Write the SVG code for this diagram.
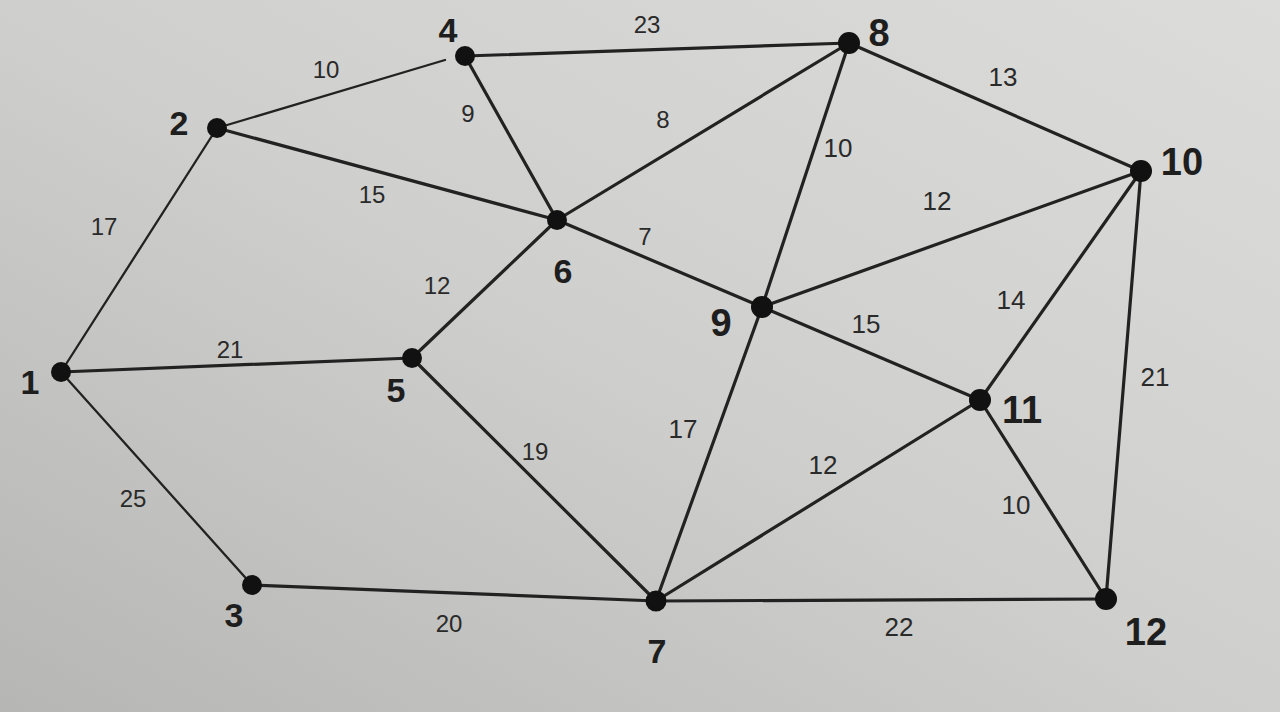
<svg xmlns="http://www.w3.org/2000/svg" width="1280" height="712" viewBox="0 0 1280 712">
<defs>
<linearGradient id="bg" x1="1" y1="0" x2="0" y2="1">
<stop offset="0" stop-color="#dcdcda"/>
<stop offset="0.5" stop-color="#cfcfcd"/>
<stop offset="1" stop-color="#b6b6b4"/>
</linearGradient>
<style>
.e{stroke:#222;stroke-width:3.2;stroke-linecap:round;fill:none}
.t{stroke-width:2.3}
.n{fill:#111}
.w{font-family:"Liberation Sans",Arial,sans-serif;font-size:24px;fill:#2a2a2a;text-anchor:middle}
.r{font-size:26px}
.l{font-family:"Liberation Sans",Arial,sans-serif;font-size:34px;font-weight:bold;fill:#1e1e1e;text-anchor:middle}
.b{font-size:38px}
</style>
</defs>
<rect width="1280" height="712" fill="url(#bg)"/>
<g id="connectors">
<line class="e t" x1="61" y1="372" x2="217" y2="128"/>
<line class="e t" x1="61" y1="372" x2="252" y2="585"/>
<line class="e" x1="61" y1="372" x2="412" y2="358"/>
<line class="e t" x1="217" y1="128" x2="445" y2="60"/>
<line class="e" x1="217" y1="128" x2="557" y2="220"/>
<line class="e" x1="252" y1="585" x2="656" y2="601"/>
<line class="e" x1="465" y1="56" x2="849" y2="43"/>
<line class="e" x1="465" y1="56" x2="557" y2="220"/>
<line class="e" x1="412" y1="358" x2="557" y2="220"/>
<line class="e" x1="412" y1="358" x2="656" y2="601"/>
<line class="e" x1="557" y1="220" x2="849" y2="43"/>
<line class="e" x1="557" y1="220" x2="762" y2="307"/>
<line class="e" x1="849" y1="43" x2="762" y2="307"/>
<line class="e" x1="849" y1="43" x2="1141" y2="171"/>
<line class="e" x1="762" y1="307" x2="1141" y2="171"/>
<line class="e" x1="762" y1="307" x2="980" y2="400"/>
<line class="e" x1="762" y1="307" x2="656" y2="601"/>
<line class="e" x1="1141" y1="171" x2="980" y2="400"/>
<line class="e" x1="1141" y1="171" x2="1106" y2="599"/>
<line class="e" x1="980" y1="400" x2="656" y2="601"/>
<line class="e" x1="980" y1="400" x2="1106" y2="599"/>
<line class="e" x1="656" y1="601" x2="1106" y2="599"/>
</g>
<g id="weights">
<text class="w" x="326" y="78">10</text>
<text class="w" x="647" y="33">23</text>
<text class="w r" x="1003" y="86">13</text>
<text class="w" x="468" y="122">9</text>
<text class="w" x="663" y="128">8</text>
<text class="w r" x="838" y="157">10</text>
<text class="w" x="372" y="203">15</text>
<text class="w r" x="937" y="210">12</text>
<text class="w" x="645" y="245">7</text>
<text class="w" x="104" y="235">17</text>
<text class="w" x="437" y="294">12</text>
<text class="w" x="230" y="358">21</text>
<text class="w r" x="866" y="333">15</text>
<text class="w r" x="1011" y="309">14</text>
<text class="w r" x="1155" y="386">21</text>
<text class="w" x="133" y="507">25</text>
<text class="w" x="535" y="460">19</text>
<text class="w r" x="683" y="438">17</text>
<text class="w r" x="823" y="474">12</text>
<text class="w r" x="1016" y="514">10</text>
<text class="w" x="449" y="632">20</text>
<text class="w r" x="899" y="636">22</text>
</g>
<g id="node1"><circle class="n" cx="61" cy="372" r="10"/><text class="l" x="30" y="394">1</text></g>
<g id="node2"><circle class="n" cx="217" cy="128" r="10"/><text class="l" x="179" y="135">2</text></g>
<g id="node3"><circle class="n" cx="252" cy="585" r="10"/><text class="l" x="234" y="627">3</text></g>
<g id="node4"><circle class="n" cx="465" cy="56" r="10"/><text class="l" x="448" y="42">4</text></g>
<g id="node5"><circle class="n" cx="412" cy="358" r="10"/><text class="l" x="396" y="402">5</text></g>
<g id="node6"><circle class="n" cx="557" cy="220" r="10"/><text class="l" x="563" y="283">6</text></g>
<g id="node7"><circle class="n" cx="656" cy="601" r="10.5"/><text class="l" x="657" y="663">7</text></g>
<g id="node8"><circle class="n" cx="849" cy="43" r="11"/><text class="l b" x="879" y="46">8</text></g>
<g id="node9"><circle class="n" cx="762" cy="307" r="11"/><text class="l b" x="721" y="336">9</text></g>
<g id="node10"><circle class="n" cx="1141" cy="171" r="11"/><text class="l b" x="1182" y="175">10</text></g>
<g id="node11"><circle class="n" cx="980" cy="400" r="11"/><text class="l b" x="1022" y="423">11</text></g>
<g id="node12"><circle class="n" cx="1106" cy="599" r="11"/><text class="l b" x="1146" y="645">12</text></g>
</svg>
